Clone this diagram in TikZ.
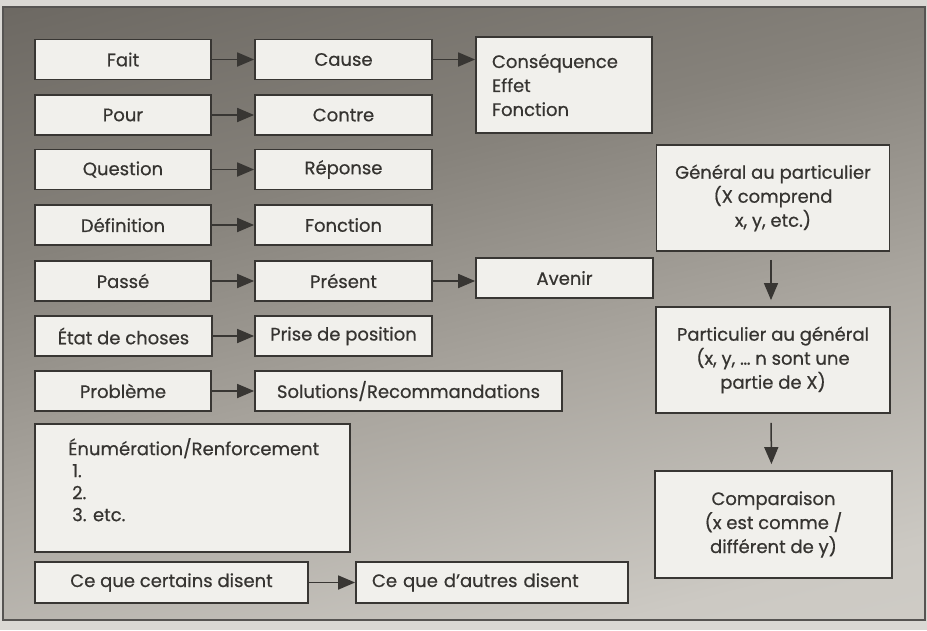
\documentclass[tikz,border=0pt]{standalone}
\usepackage{fontspec}
\setmainfont{Poppins}[FakeBold=0.6]
\usetikzlibrary{arrows.meta,calc}
\definecolor{bordc}{HTML}{383633}
\definecolor{boxc}{HTML}{F1F0EC}
\definecolor{txtc}{HTML}{363431}
\definecolor{outerc}{HTML}{DAD8D4}
\definecolor{bg0}{HTML}{D6D4CF}
\definecolor{bg1}{HTML}{CCC9C3}
\definecolor{bg2}{HTML}{A9A59E}
\definecolor{bg3}{HTML}{86827B}
\definecolor{bg4}{HTML}{6D6963}
\definecolor{bg5}{HTML}{625E58}
\pgfdeclareverticalshading{bgsh}{100bp}{color(0bp)=(bg0); color(25bp)=(bg1); color(45bp)=(bg2); color(62bp)=(bg3); color(80bp)=(bg4); color(100bp)=(bg5)}
\begin{document}
\begin{tikzpicture}[x=1pt,y=-1pt,
  box/.style={draw=bordc, line width=1.8pt, fill=boxc, inner sep=0pt,
    minimum height=40pt, text=txtc, font=\fontsize{18}{24}\selectfont},
  conn/.style={draw=bordc, line width=1.8pt, -{Triangle[length=17pt,width=14pt]}}]
\useasboundingbox (0,0) rectangle (927,630);
\fill[outerc] (0,0) rectangle (927,630);
\shade[shading=bgsh, shading angle=14] (3,7) rectangle (925,620);
\draw[bordc!85, line width=1.2pt] (3,7) rectangle (925,620);
% column 1
\node[box, minimum width=176pt] (fait) at (123,59.5) {Fait};
\node[box, minimum width=176pt] (pour) at (123,115) {Pour};
\node[box, minimum width=176pt] (quest) at (123,169.5) {Question};
\node[box, minimum width=176pt] (def) at (123,225) {Définition};
\node[box, minimum width=176pt] (passe) at (123,281) {Passé};
\node[box, minimum width=177pt] (etat) at (123.5,336) {État de choses};
\node[box, minimum width=176pt] (prob) at (123,391) {Problème};
% column 2
\node[box, minimum width=177pt] (cause) at (343.5,59.5) {Cause};
\node[box, minimum width=177pt] (contre) at (343.5,115) {Contre};
\node[box, minimum width=177pt] (rep) at (343.5,169.5) {Réponse};
\node[box, minimum width=177pt] (fonc) at (343.5,225) {Fonction};
\node[box, minimum width=177pt] (pres) at (343.5,281) {Présent};
\node[box, minimum width=177pt] (prise) at (343.5,336) {Prise de position};
\node[box, minimum width=307pt] (sol) at (408.5,391) {Solutions/Recommandations};
% column 3
\node[box, minimum width=176pt, minimum height=96pt, text width=144pt, inner xsep=16pt, align=left]
  (cons) at (564,85) {Conséquence\\Effet\\Fonction};
\node[box, minimum width=177pt] (aven) at (564.5,278) {Avenir};
% right column
\node[box, minimum width=233pt, minimum height=106pt, align=center] (gen) at (773,198)
  {Général au particulier\\(X comprend\\x, y, etc.)};
\node[box, minimum width=234pt, minimum height=106pt, align=center] (part) at (773,360)
  {Particulier au général\\(x, y, \dots\ n sont une\\partie de X)};
\node[box, minimum width=237pt, minimum height=107pt, align=center] (comp) at (773.5,524.5)
  {Comparaison\\(x est comme /\\différent de y)};
% enumeration
\node[box, minimum width=315pt, minimum height=128pt] (enum) at (192.5,488) {};
\node[anchor=north west, inner sep=0pt, text=txtc, align=left, font=\fontsize{18}{22}\selectfont]
  (enumtxt) at (68,438) {Énumération/Renforcement\\ \hspace*{4pt}1.\\ \hspace*{4pt}2.\\ \hspace*{4pt}3. etc.};
% bottom row
\node[box, minimum width=273pt, minimum height=41pt] (cert) at (171.5,582.5) {Ce que certains disent};
\node[box, minimum width=272pt, minimum height=41pt, text width=240pt, inner xsep=16pt, align=left]
  (autr) at (492,582.5) {Ce que d’autres disent};
% connectors
\draw[conn] (fait) -- (cause);
\draw[conn] (pour) -- (contre);
\draw[conn] (quest) -- (rep);
\draw[conn] (def) -- (fonc);
\draw[conn] (passe) -- (pres);
\draw[conn] (etat) -- (prise);
\draw[conn] (prob) -- (sol);
\draw[conn] (cause.east) -- (cause.east -| cons.west);
\draw[conn] (pres.east) -- (pres.east -| aven.west);
\draw[conn] (cert) -- (autr);
\draw[conn, line width=1.5pt, shorten <=8pt, shorten >=6pt] ($(gen.south)+(-2,0)$) -- ($(part.north)+(-2,0)$);
\draw[conn, line width=1.5pt, shorten <=9pt, shorten >=6pt] ($(part.south)+(-2,0)$) -- ($(comp.north)+(-2,0)$);
\end{tikzpicture}
\end{document}
